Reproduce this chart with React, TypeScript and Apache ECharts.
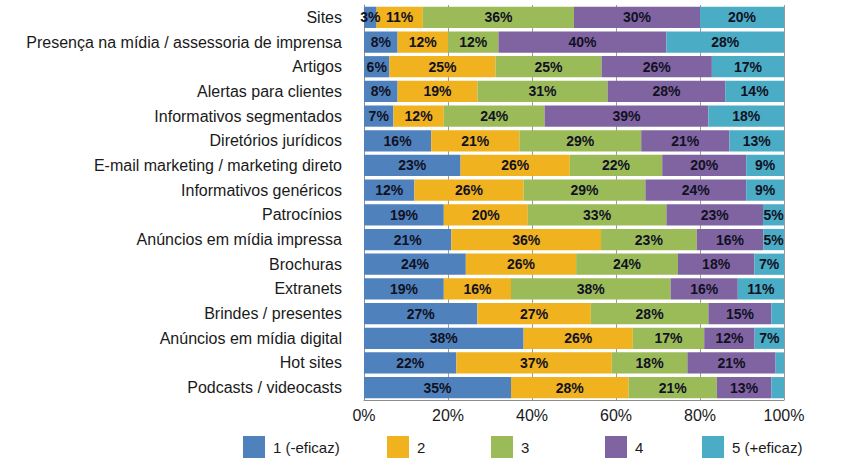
import React, { useEffect, useRef } from "react";
import * as echarts from "echarts";

const categories = [
  "Sites",
  "Presença na mídia / assessoria de imprensa",
  "Artigos",
  "Alertas para clientes",
  "Informativos segmentados",
  "Diretórios jurídicos",
  "E-mail marketing / marketing direto",
  "Informativos genéricos",
  "Patrocínios",
  "Anúncios em mídia impressa",
  "Brochuras",
  "Extranets",
  "Brindes / presentes",
  "Anúncios em mídia digital",
  "Hot sites",
  "Podcasts / videocasts",
];

const seriesNames = ["1 (-eficaz)", "2", "3", "4", "5 (+eficaz)"];

const s1 = [3, 8, 6, 8, 7, 16, 23, 12, 19, 21, 24, 19, 27, 38, 22, 35];
const s2 = [11, 12, 25, 19, 12, 21, 26, 26, 20, 36, 26, 16, 27, 26, 37, 28];
const s3 = [36, 12, 25, 31, 24, 29, 22, 29, 33, 23, 24, 38, 28, 17, 18, 21];
const s4 = [30, 40, 26, 28, 39, 21, 20, 24, 23, 16, 18, 16, 15, 12, 21, 13];
const s5 = [20, 28, 17, 14, 18, 13, 9, 9, 5, 5, 7, 11, 3, 7, 2, 3];
const values = [s1, s2, s3, s4, s5];

// segments whose label is not shown in the reference: [series, category]
const unlabeled = [
  [4, 12],
  [4, 14],
  [4, 15],
];

const xTicks = [0, 20, 40, 60, 80, 100];

const colors = ["#4F81BD", "#F0B21E", "#9BBB59", "#8064A2", "#4BACC6"];
const legendLeft = [243, 387, 491, 605, 702];

export default function App() {
  const ref = useRef<HTMLDivElement>(null);
  useEffect(() => {
    if (!ref.current) return;
    const chart = echarts.init(ref.current, undefined, { renderer: "svg" });
    const font = "'Liberation Sans', Arial, Helvetica, sans-serif";
    // 100% stacked: each row is scaled to fill the full width (rounded labels keep raw values)
    const totals = categories.map((_, ci) => values.reduce((acc, s) => acc + s[ci], 0));
    chart.setOption({
      animation: false,
      textStyle: { fontFamily: font },
      grid: { left: 364, right: 69, top: 5, bottom: 64, containLabel: false },
      xAxis: {
        type: "value",
        min: xTicks[0],
        max: xTicks[xTicks.length - 1],
        interval: 20,
        axisLine: { show: true, lineStyle: { color: "#8c8c8c", width: 1 } },
        axisTick: { show: false },
        splitLine: { show: true, lineStyle: { color: "#9a9a9a", width: 1 } },
        axisLabel: {
          formatter: (v: number) => v + "%",
          fontSize: 16,
          color: "#1a1a1a",
          margin: 7,
          fontFamily: font,
        },
      },
      yAxis: {
        type: "category",
        data: categories,
        inverse: true,
        axisLine: { show: true, lineStyle: { color: "#8c8c8c", width: 1 } },
        axisTick: { show: false },
        axisLabel: { fontSize: 16, color: "#1a1a1a", margin: 22, fontFamily: font },
      },
      legend: seriesNames.map((name, i) => ({
        data: [name],
        left: legendLeft[i],
        top: 436,
        itemWidth: 22,
        itemHeight: 22,
        icon: "rect",
        padding: 0,
        textStyle: { fontSize: 15, color: "#1a1a1a", padding: [0, 0, 0, 3], fontFamily: font },
      })),
      series: seriesNames.map((name, si) => ({
        name,
        type: "bar",
        stack: "total",
        barCategoryGap: "14%",
        itemStyle: { color: colors[si] },
        label: {
          show: true,
          position: "inside",
          fontSize: 14,
          fontWeight: "bold",
          color: "#111122",
          fontFamily: font,
          formatter: (p: any) =>
            unlabeled.some(([a, b]) => a === si && b === p.dataIndex)
              ? ""
              : values[si][p.dataIndex] + "%",
        },
        data: values[si].map((v, ci) => (v / totals[ci]) * 100),
      })),
    });
    return () => chart.dispose();
  }, []);
  return (
    <div
      ref={ref}
      style={{ position: "fixed", left: 0, top: 0, width: 853, height: 464, background: "#fff" }}
    />
  );
}
